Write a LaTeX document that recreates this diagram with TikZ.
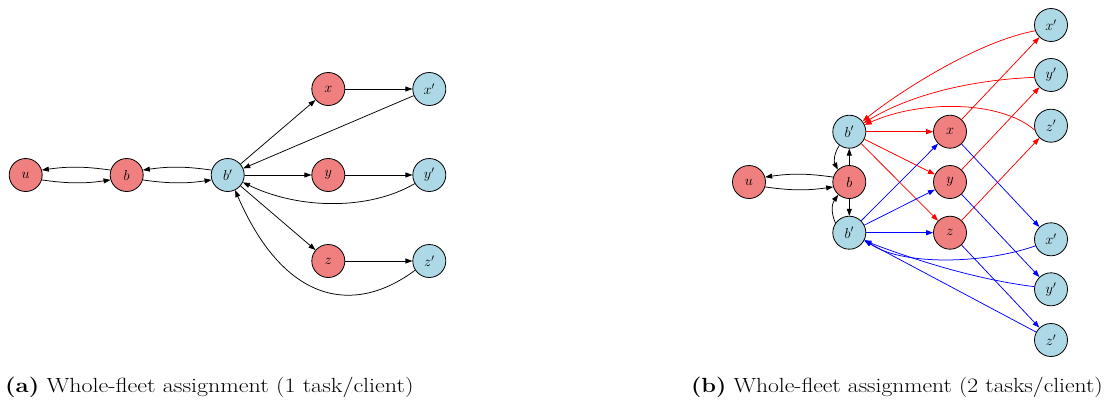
\documentclass[tikz,border=0pt]{standalone}
\usetikzlibrary{arrows.meta}
\definecolor{nred}{RGB}{240,128,128}
\definecolor{nblue}{RGB}{173,216,230}
\begin{document}
\begin{tikzpicture}[x=1pt,y=1pt,
  vr/.style={circle,draw,line width=0.8pt,fill=nred,minimum size=33pt,inner sep=0pt,font=\fontsize{14}{14}\selectfont},
  vb/.style={vr,fill=nblue},
  e/.style={-{Triangle[length=7pt,width=5pt]},line width=0.75pt},
  re/.style={e,red},
  be/.style={e,blue},
  captext/.style={inner sep=0pt,font=\fontsize{20.5}{22}\selectfont}]
\useasboundingbox (0,0) rectangle (1106,-400);
% ---------- (a) ----------
\node[vr] (u) at (25.7,-175) {$u$};
\node[vr] (b) at (126.7,-175) {$b$};
\node[vb] (bp) at (227.7,-175) {$b'$};
\node[vr] (x) at (328.3,-89) {$x$};
\node[vb] (xp) at (429.3,-89) {$x'$};
\node[vr] (y) at (328.3,-175) {$y$};
\node[vb] (yp) at (429.3,-175) {$y'$};
\node[vr] (z) at (328.3,-261) {$z$};
\node[vb] (zp) at (429.3,-261) {$z'$};
\draw[e] (u.-17) to[bend right=8] (b.-163);
\draw[e] (b.163) to[bend right=8] (u.17);
\draw[e] (b.-17) to[bend right=8] (bp.-163);
\draw[e] (bp.163) to[bend right=8] (b.17);
\draw[e] (bp) -- (x);
\draw[e] (bp) -- (y);
\draw[e] (bp) -- (z);
\draw[e] (x) -- (xp);
\draw[e] (y) -- (yp);
\draw[e] (z) -- (zp);
\draw[e] (xp) -- (bp);
\draw[e] (yp) .. controls (370,-210) and (300,-210) .. (bp);
\draw[e] (zp.213) .. controls (355,-315) and (285,-305) .. (bp.-64);
% ---------- (b) ----------
\node[vr] (u2) at (749,-182) {$u$};
\node[vr] (b2) at (849.3,-182) {$b$};
\node[vb] (bt) at (849.3,-131.7) {$b'$};
\node[vb] (bb) at (849.3,-232.7) {$b'$};
\node[vr] (x2) at (950,-131.7) {$x$};
\node[vr] (y2) at (950,-182) {$y$};
\node[vr] (z2) at (950,-232.7) {$z$};
\node[vb] (xt) at (1051,-25) {$x'$};
\node[vb] (yt) at (1051,-75) {$y'$};
\node[vb] (zt) at (1051,-125.7) {$z'$};
\node[vb] (xb) at (1051,-239.3) {$x'$};
\node[vb] (yb) at (1051,-289.3) {$y'$};
\node[vb] (zb) at (1051,-340) {$z'$};
\draw[e] (u2.-17) to[bend right=8] (b2.-163);
\draw[e] (b2.163) to[bend right=8] (u2.17);
\draw[e] (b2) -- (bt);
\draw[e] (bt.234) to[bend right=30] (b2.133);
\draw[e] (b2) -- (bb);
\draw[e] (bb.145) to[bend left=30] (b2.229);
\draw[re] (bt) -- (x2);
\draw[re] (bt) -- (y2);
\draw[re] (bt) -- (z2);
\draw[re] (x2) -- (xt);
\draw[re] (y2) -- (yt);
\draw[re] (z2) -- (zt);
\draw[re] (xt.200) .. controls (975,-42) and (895,-95) .. (bt.38);
\draw[re] (yt.188) .. controls (970,-80) and (910,-95) .. (bt.31);
\draw[re] (zt.195) .. controls (1000,-100) and (920,-100) .. (bt.24);
\draw[be] (bb) -- (x2);
\draw[be] (bb) -- (y2);
\draw[be] (bb) -- (z2);
\draw[be] (x2) -- (xb);
\draw[be] (y2) -- (yb);
\draw[be] (z2) -- (zb);
\draw[be] (xb.203) .. controls (980,-265) and (900,-265) .. (bb.-25);
\draw[be] (yb.171) .. controls (980,-280) and (920,-262) .. (bb.-28);
\draw[be] (zb) -- (bb);
% ---------- captions ----------
\node[captext,anchor=base west] (capa) at (5,-392.7) {\scalebox{1.17}[1]{\textbf{(a)} Whole-fleet assignment (1 task/client)}};
\node[captext,anchor=base east] (capb) at (1103,-392.7) {\scalebox{1.15}[1]{\textbf{(b)} Whole-fleet assignment (2 tasks/client)}};
\end{tikzpicture}
\end{document}
